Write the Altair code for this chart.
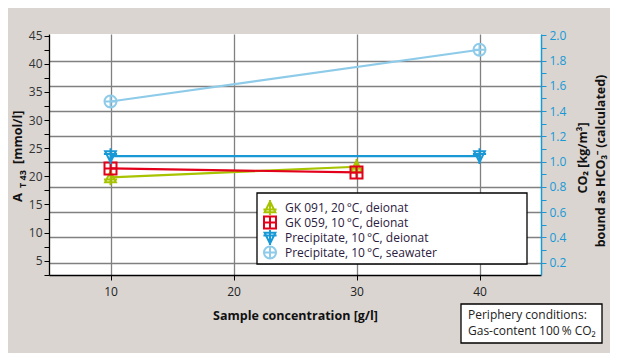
import altair as alt
import pandas as pd

FONT = "Open Sans"

series = [
    "GK 091, 20\u2009°C, deionat",
    "GK 059, 10\u2009°C, deionat",
    "Precipitate, 10\u2009°C, deionat",
    "Precipitate, 10\u2009°C, seawater",
]
colors = ["#a8c300", "#e2001a", "#1899d6", "#8ecbe9"]
shapes = [
    "M0,-1L0.9,0.8L-0.9,0.8Z M0,-1.3V1.3 M-1.1,0.35H1.1",
    "M-1,-1H1V1H-1Z M0,-1V1 M-1,0H1",
    "M0,1L0.9,-0.8L-0.9,-0.8Z M0,1.3V-1.3 M-1.1,-0.35H1.1",
    "M-1,0A1,1 0 1,0 1,0A1,1 0 1,0 -1,0Z M0,-1V1 M-1,0H1",
]

gk091_x = [10, 30]
gk091_y = [19.8, 21.7]
gk059_x = [10, 30]
gk059_y = [21.4, 20.7]
prec_deion_x = [10, 40]
prec_deion_y = [23.6, 23.6]
prec_sea_x = [10, 40]
prec_sea_y = [33.3, 42.5]

x_ticks = [10, 20, 30, 40]
left_ticks = [2.5, 5, 7.5, 10, 12.5, 15, 17.5, 20, 22.5, 25, 27.5, 30, 32.5, 35, 37.5, 40, 42.5, 45]
right_ticks = [0.1, 0.2, 0.3, 0.4, 0.5, 0.6, 0.7, 0.8, 0.9, 1.0,
               1.1, 1.2, 1.3, 1.4, 1.5, 1.6, 1.7, 1.8, 1.9, 2.0]

rows = []
for name, xs, ys in zip(series,
                        [gk091_x, gk059_x, prec_deion_x, prec_sea_x],
                        [gk091_y, gk059_y, prec_deion_y, prec_sea_y]):
    for xv, yv in zip(xs, ys):
        rows.append({"series": name, "conc": xv, "at": yv})
df = pd.DataFrame(rows)

one = pd.DataFrame({"k": [0]})

x_enc = alt.X(
    "conc:Q",
    scale=alt.Scale(domain=[5, 45], nice=False, zero=False),
    axis=alt.Axis(
        values=x_ticks, grid=True, gridColor="#808080", gridWidth=1.3,
        domainColor="black", domainWidth=1.3, tickColor="black", tickSize=5,
        labelFontSize=12, labelFont=FONT, labelColor="#222", labelPadding=6,
        title="Sample concentration [g/l]", titleFont=FONT, titleFontSize=12.5,
        titleFontWeight="bold", titleColor="#111", titlePadding=12,
    ),
)
y_left = alt.Y(
    "at:Q",
    scale=alt.Scale(domain=[2.46, 45.3], nice=False, zero=False),
    axis=alt.Axis(
        orient="left", values=left_ticks, grid=False,
        labelExpr="datum.value % 5 == 0 ? datum.label : ''",
        domainColor="black", domainWidth=1.3, tickColor="black", tickSize=5,
        labelFontSize=12, labelFont=FONT, labelColor="#333", labelPadding=2,
        title=None,
    ),
)

color_scale = alt.Scale(domain=series, range=colors)
shape_scale = alt.Scale(domain=series, range=shapes)

legend = alt.Legend(
    orient="none", legendX=214, legendY=166, title=None,
    labelFont=FONT, labelFontSize=12, labelColor="#2b2040",
    symbolSize=144, symbolStrokeWidth=2, symbolFillColor="transparent",
    rowPadding=0, clipHeight=15, labelOffset=8, padding=0, labelLimit=300,
)

box = alt.Chart(one).mark_rect(fill="white", stroke="black", strokeWidth=1.3).encode(
    x=alt.value(208), x2=alt.value(478), y=alt.value(159), y2=alt.value(230)
)

lines = alt.Chart(df).mark_line(strokeWidth=2.2).encode(
    x=x_enc, y=y_left,
    color=alt.Color("series:N", scale=color_scale, legend=legend),
)

points = alt.Chart(df).mark_point(filled=False, size=144, strokeWidth=2, opacity=1).encode(
    x=x_enc, y=y_left,
    color=alt.Color("series:N", scale=color_scale, legend=legend),
    shape=alt.Shape("series:N", scale=shape_scale, legend=legend),
)

right_df = pd.DataFrame({"co2": right_ticks})
right = alt.Chart(right_df).mark_point(opacity=0).encode(
    y=alt.Y(
        "co2:Q",
        scale=alt.Scale(domain=[0.103, 2.01], nice=False, zero=False),
        axis=alt.Axis(
            orient="right", values=right_ticks,
            labelExpr="round(datum.value*10) % 2 == 0 ? format(datum.value, '.1f') : ''",
            grid=True, gridColor="#808080", gridWidth=1.3,
            gridOpacity={"condition": {"test": "round(datum.value*10) % 2 == 0 && datum.value < 1.95", "value": 1}, "value": 0},
            domainColor="#1899d6", domainWidth=1.5, tickColor="#1899d6", tickSize=5,
            labelFontSize=12, labelFont=FONT, labelColor="#1899d6", labelPadding=3,
            title=None,
        ),
    )
)

def txt(s, x, y, size=12, weight="bold", angle=270, align="left", color="#111"):
    return alt.Chart(one).mark_text(
        text=s, angle=angle, align=align, baseline="middle", font=FONT,
        fontSize=size, fontWeight=weight, color=color,
    ).encode(x=alt.value(x), y=alt.value(y))

titles = [
    txt("A", -31, 168, size=13),
    txt("T 43", -26, 154, size=9),
    txt("[mmol/l]", -31, 130, size=12.5),
    txt("CO\u2082 [kg/m\u00b3]", 534, 124, size=12.5, align="center"),
    txt("bound as HCO\u2083\u207b (calculated)", 552, 127, size=12.5, align="center"),
]

peri_box = alt.Chart(one).mark_rect(fill="white", stroke="black", strokeWidth=1.3).encode(
    x=alt.value(412), x2=alt.value(553), y=alt.value(270), y2=alt.value(309)
)
peri = [
    txt("Periphery conditions:", 419, 281, size=12, weight="normal", angle=0, color="#222"),
    txt("Gas-content 100\u2009% CO\u2082", 419, 297, size=12, weight="normal", angle=0, color="#222"),
]

left_layer = alt.layer(box, lines, points, *titles, peri_box, *peri)

chart = alt.layer(left_layer, right).resolve_scale(
    y="independent", color="shared", shape="shared"
).properties(
    width=492, height=241,
    autosize=alt.AutoSizeParams(type="none"),
    padding={"left": 41, "top": 26, "right": 69, "bottom": 78},
).configure(background="#dad5d1").configure_view(fill="white", strokeWidth=0)

chart.save("out.html", embed_options={"renderer": "svg", "actions": False})
